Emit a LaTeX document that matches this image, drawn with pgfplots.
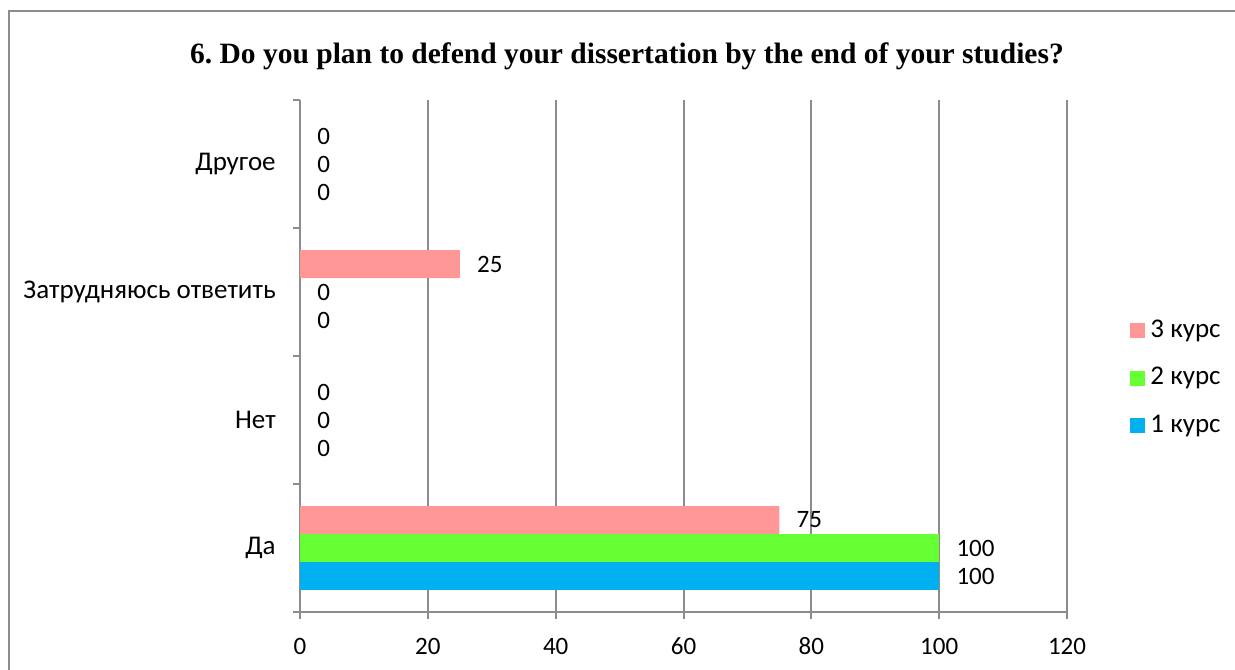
\documentclass[border=0pt]{standalone}
\usepackage{fontspec}
\setmainfont{Carlito}
\newfontfamily\titlefont{Liberation Serif}
\usepackage{pgfplots}
\pgfplotsset{compat=1.18}
\definecolor{c3}{HTML}{FF9797}
\definecolor{c2}{HTML}{66FF33}
\definecolor{c1}{HTML}{00B0F0}
\definecolor{axgray}{HTML}{8C8C8C}
\frenchspacing
\begin{document}
\begin{tikzpicture}[x=0.4pt,y=0.4pt]
\useasboundingbox (0,0) rectangle (1235,669);
\draw[axgray, line width=0.8pt] (9,-30) -- (9,658) -- (1260,658);
\node[font=\titlefont\fontsize{11.8}{14}\selectfont\bfseries] at (627,613) {6. Do you plan to defend your dissertation by the end of your studies?};
\begin{axis}[
  at={(120pt,22.8pt)}, anchor=south west,
  scale only axis, width=306.8pt, height=204.8pt,
  xbar, bar width=0.21875,
  xmin=0, xmax=120, ymin=-0.5, ymax=3.5,
  xtick={0,20,...,120},
  ytick={-0.5,0.5,1.5,2.5,3.5}, yticklabels={},
  extra y ticks={0,1,2,3},
  extra y tick labels={Да,Нет,Затрудняюсь ответить,Другое},
  extra y tick style={major tick length=0pt, y tick label style={xshift=-6.2pt, font=\fontsize{10.8}{13}\selectfont}},
  axis x line=bottom, axis y line=left,
  axis line style={-, draw=axgray, line width=0.8pt},
  tick style={draw=axgray, line width=0.8pt},
  tick align=outside, major tick length=2.8pt,
  xmajorgrids, grid style={draw=axgray, line width=0.8pt},
  font=\fontsize{10}{12}\selectfont,
  /pgf/number format/assume math mode=true,
  x tick label style={yshift=-4pt},
  nodes near coords,
  every node near coord/.append style={anchor=west, xshift=3.4pt, font=\fontsize{10}{12}\selectfont, text=black},
  legend style={draw=none, fill=none, at={(1.0821,0.457)}, anchor=west, inner sep=0pt, row sep=6.6pt, font=\fontsize{10.8}{13}\selectfont},
  legend cell align=left,
  legend image code/.code={\fill[#1] (0pt,-3pt) rectangle (6pt,3pt);},
  clip=false,
]
\addplot[fill=c3, draw=none, bar shift=0.21875] coordinates {(75,0) (25,2)};
\addplot[fill=c2, draw=none, bar shift=0] coordinates {(100,0)};
\addplot[fill=c1, draw=none, bar shift=-0.21875] coordinates {(100,0)};
\legend{3 курс, 2 курс, 1 курс}
% zero-valued bars: labels only
\addplot[fill=none, draw=none, bar shift=0.21875, forget plot] coordinates {(0,1) (0,3)};
\addplot[fill=none, draw=none, bar shift=0, forget plot] coordinates {(0,1) (0,2) (0,3)};
\addplot[fill=none, draw=none, bar shift=-0.21875, forget plot] coordinates {(0,1) (0,2) (0,3)};
\end{axis}
\end{tikzpicture}
\end{document}
